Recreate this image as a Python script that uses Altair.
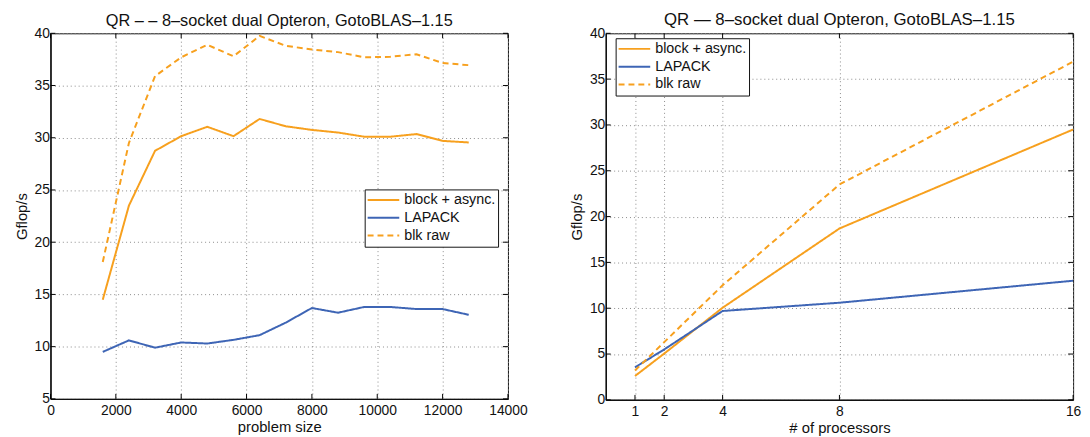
import altair as alt
import pandas as pd

series_names = ["block + async.", "LAPACK", "blk raw"]

# Left panel: Gflop/s vs problem size
size_x = [1600, 2400, 3200, 4000, 4800, 5600, 6400, 7200, 8000, 8800, 9600, 10400, 11200, 12000, 12800]
size_block = [14.5, 23.5, 28.75, 30.15, 31.05, 30.15, 31.8, 31.1, 30.75, 30.5, 30.1, 30.1, 30.35, 29.7, 29.55]
size_lapack = [9.5, 10.6, 9.9, 10.4, 10.3, 10.65, 11.1, 12.3, 13.7, 13.25, 13.8, 13.8, 13.6, 13.6, 13.05]
size_raw = [18.1, 29.5, 35.9, 37.7, 38.9, 37.8, 39.75, 38.8, 38.45, 38.2, 37.7, 37.75, 38.0, 37.15, 36.95]

# Right panel: Gflop/s vs # of processors
procs_x = [1, 2, 4, 8, 16]
procs_block = [2.6, 5.05, 10.05, 18.7, 29.5]
procs_lapack = [3.55, 5.5, 9.7, 10.6, 13.0]
procs_raw = [3.2, 6.3, 12.5, 23.5, 36.9]

left_xticks = [0, 2000, 4000, 6000, 8000, 10000, 12000, 14000]
left_yticks = [5, 10, 15, 20, 25, 30, 35, 40]
right_xticks = [1, 2, 4, 8, 16]
right_yticks = [0, 5, 10, 15, 20, 25, 30, 35, 40]

left_title = "QR \u2013 \u2013 8\u2013socket dual Opteron, GotoBLAS\u20131.15"
right_title = "QR \u2014 8\u2013socket dual Opteron, GotoBLAS\u20131.15"

ORANGE = "#F7A01E"
BLUE = "#3E65B5"
FONT = "Liberation Sans"


def long_df(xs, ys_list):
    rows = []
    for name, ys in zip(series_names, ys_list):
        for x, y in zip(xs, ys):
            rows.append({"x": x, "gflops": y, "series": name})
    return pd.DataFrame(rows)


def panel(df, xtitle, xdomain, ydomain, xticks, yticks, W, H, title, title_offset, title_size, lx, ly):
    xscale = alt.Scale(domain=xdomain, nice=False, zero=False)
    yscale = alt.Scale(domain=ydomain, nice=False, zero=False)
    xaxis = alt.Axis(values=xticks, title=xtitle, format="d", labelFlush=False)
    yaxis = alt.Axis(values=yticks, title="Gflop/s", format="d", labelFlush=False)
    leg = alt.Legend(title=None, orient="none", legendX=lx, legendY=ly)
    lines = alt.Chart(df).mark_line(strokeWidth=2, clip=True).encode(
        x=alt.X("x:Q", scale=xscale, axis=xaxis),
        y=alt.Y("gflops:Q", scale=yscale, axis=yaxis),
        color=alt.Color("series:N", sort=series_names,
                        scale=alt.Scale(domain=series_names, range=[ORANGE, BLUE, ORANGE]),
                        legend=leg),
        strokeDash=alt.StrokeDash("series:N", sort=series_names,
                                  scale=alt.Scale(domain=series_names, range=[[1, 0], [1, 0], [6, 4]]),
                                  legend=leg),
    )
    xt = pd.DataFrame({"x": xticks})
    yt = pd.DataFrame({"gflops": yticks})
    tl = 5
    ytl = alt.Chart(yt).mark_rule(color="black", strokeWidth=1).encode(
        y=alt.Y("gflops:Q", scale=yscale, axis=yaxis), x=alt.value(0), x2=alt.value(tl))
    ytr = alt.Chart(yt).mark_rule(color="black", strokeWidth=1).encode(
        y=alt.Y("gflops:Q", scale=yscale, axis=yaxis), x=alt.value(W - tl), x2=alt.value(W))
    xtb = alt.Chart(xt).mark_rule(color="black", strokeWidth=1).encode(
        x=alt.X("x:Q", scale=xscale, axis=xaxis), y=alt.value(H), y2=alt.value(H - tl))
    xtt = alt.Chart(xt).mark_rule(color="black", strokeWidth=1).encode(
        x=alt.X("x:Q", scale=xscale, axis=xaxis), y=alt.value(0), y2=alt.value(tl))
    return alt.layer(lines, ytl, ytr, xtb, xtt).properties(
        width=W, height=H,
        title=alt.TitleParams(title, offset=title_offset, fontSize=title_size, font=FONT,
                              fontWeight="normal", color="#111", anchor="middle"),
    )


left = panel(long_df(size_x, [size_block, size_lapack, size_raw]), "problem size",
             [0, 14000], [5, 40], left_xticks, left_yticks, 463, 370, left_title, -3, 16.5, 318, 158)
right = panel(long_df(procs_x, [procs_block, procs_lapack, procs_raw]), "# of processors",
              [0, 16], [0, 40], right_xticks, right_yticks, 473, 371, right_title, -3, 17, 10, 5)

chart = alt.concat(left, right, columns=2, spacing=41, align="none").resolve_scale(
    color="independent", strokeDash="independent"
).properties(padding={"left": 5, "top": 0, "right": 0, "bottom": 0}).configure_view(
    stroke="#111", strokeWidth=1
).configure_axis(
    grid=True, gridDash=[1, 3], gridColor="#8a8a8a", gridWidth=1,
    ticks=False, tickSize=0, domain=True, domainColor="#111", domainWidth=1.5,
    labelFont=FONT, labelFontSize=14, labelColor="#111", labelPadding=1,
    titleFont=FONT, titleFontSize=15, titleFontWeight="normal", titleColor="#111",
    titlePadding=5,
).configure_axisX(titlePadding=2, labelPadding=5).configure_legend(
    strokeColor="#111", fillColor="white", padding=2, cornerRadius=0,
    symbolType="stroke", symbolSize=1024, symbolStrokeWidth=2,
    labelFont=FONT, labelFontSize=14.5, labelColor="#111", labelOffset=4,
    rowPadding=0, clipHeight=17.5,
)

chart.save("out.html", embed_options={"renderer": "svg", "actions": False})
